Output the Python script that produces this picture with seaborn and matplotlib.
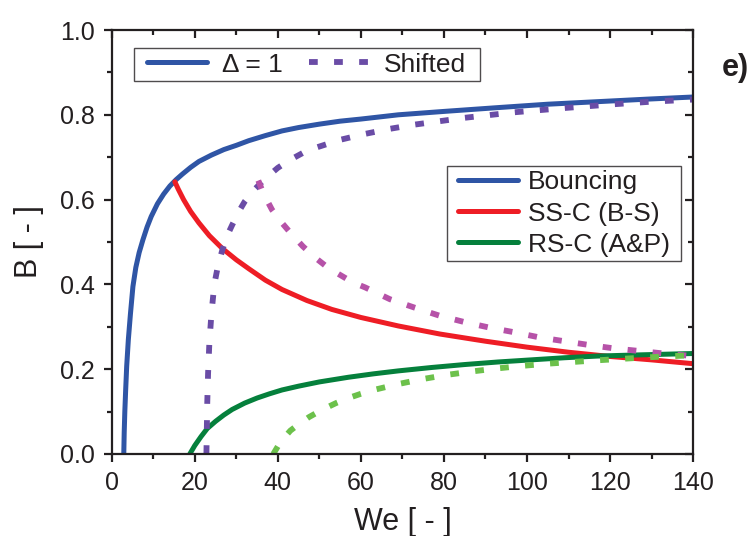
import matplotlib
matplotlib.use('Agg')
import matplotlib.pyplot as plt
from matplotlib.lines import Line2D
from matplotlib.path import Path
from matplotlib.ticker import MultipleLocator, FormatStrFormatter
import seaborn as sns

# values
bounce_we = [2.9, 3.0, 3.15, 3.35, 3.6, 4.0, 4.5, 5.1, 5.8, 6.6, 7.5, 8.5, 9.5, 11, 12.5, 14, 15.5, 17, 19,
             21, 24, 27, 30, 33, 37, 41, 45, 50, 55, 60, 69, 80, 93, 105, 117, 129, 140]
bounce_b = [0.0, 0.05, 0.10, 0.15, 0.207, 0.27, 0.33, 0.395, 0.44, 0.475, 0.505, 0.535, 0.56, 0.59, 0.613,
            0.632, 0.647, 0.66, 0.676, 0.69, 0.705, 0.718, 0.728, 0.739, 0.751, 0.762, 0.77, 0.778, 0.785,
            0.79, 0.80, 0.808, 0.817, 0.825, 0.831, 0.837, 0.842]

bounce_sh_we = [22.8, 22.9, 23.0, 23.2, 23.5, 24.0, 24.7, 25.5, 26.6, 27.8, 29, 30.5, 32, 34, 37, 40, 43, 46,
                49, 55, 61, 67, 73, 85, 97, 109, 121, 130, 140]
bounce_sh_b = [0.0, 0.06, 0.12, 0.19, 0.26, 0.33, 0.40, 0.44, 0.48, 0.515, 0.54, 0.57, 0.595, 0.62, 0.65,
               0.675, 0.694, 0.71, 0.722, 0.741, 0.755, 0.767, 0.777, 0.793, 0.806, 0.816, 0.825, 0.831, 0.836]

ssc_we = [15.2, 16, 17.3, 19, 21, 23.5, 26.6, 30, 33, 37, 41, 47, 53, 60, 69, 79, 90, 100, 110, 120, 130, 140]
ssc_b = [0.642, 0.625, 0.60, 0.572, 0.545, 0.515, 0.485, 0.458, 0.437, 0.41, 0.388, 0.362, 0.341, 0.322,
         0.302, 0.283, 0.266, 0.252, 0.24, 0.23, 0.222, 0.213]

ssc_sh_we = [35.3, 36.5, 38.6, 41, 43, 46, 49, 52, 54.7, 58, 61, 67, 73, 79, 85, 91, 97, 103, 109, 115, 121,
             127, 133, 140]
ssc_sh_b = [0.645, 0.615, 0.576, 0.545, 0.522, 0.49, 0.463, 0.44, 0.424, 0.405, 0.393, 0.365, 0.345, 0.326,
            0.311, 0.298, 0.287, 0.275, 0.266, 0.257, 0.249, 0.243, 0.237, 0.231]

rsc_we = [18.8, 20, 21.5, 23, 25, 27, 29, 32, 35, 38, 41, 45, 50, 57, 63, 69, 77, 85, 93, 101, 109, 117, 128, 140]
rsc_b = [0.0, 0.02, 0.041, 0.06, 0.077, 0.092, 0.105, 0.12, 0.132, 0.142, 0.151, 0.16, 0.17, 0.181, 0.189,
         0.196, 0.204, 0.211, 0.217, 0.222, 0.227, 0.231, 0.234, 0.237]

rsc_sh_we = [38.9, 40, 41.5, 43, 45, 47.5, 50.6, 54, 57, 60, 63.5, 69, 75, 81, 87, 93, 99, 105, 117, 129, 140]
rsc_sh_b = [0.0, 0.018, 0.038, 0.055, 0.07, 0.087, 0.104, 0.12, 0.132, 0.142, 0.152, 0.165, 0.177, 0.187,
            0.195, 0.202, 0.208, 0.213, 0.221, 0.228, 0.233]

blue = '#2f55a5'
red = '#ee1d25'
green = '#05803c'
purple = '#6a4ca6'
magenta = '#b652a8'
lgreen = '#6cc14b'
ink = '#231f20'

sns.set_style('ticks')
plt.rcParams['font.family'] = ['Liberation Sans', 'DejaVu Sans']

fig = plt.figure(figsize=(7.55, 5.36), dpi=100)
ax = fig.add_axes([0.148, 0.153, 0.770, 0.791])

solid_lw = 3.6
dot_lw = 4.2
dots = (0, (1.5, 2.8))

sns.lineplot(x=bounce_we, y=bounce_b, ax=ax, color=blue, lw=solid_lw, estimator=None)
sns.lineplot(x=ssc_we, y=ssc_b, ax=ax, color=red, lw=solid_lw, estimator=None)
sns.lineplot(x=rsc_we, y=rsc_b, ax=ax, color=green, lw=solid_lw, estimator=None)
sns.lineplot(x=bounce_sh_we, y=bounce_sh_b, ax=ax, color=purple, lw=dot_lw, linestyle=dots, estimator=None)
sns.lineplot(x=ssc_sh_we, y=ssc_sh_b, ax=ax, color=magenta, lw=dot_lw, linestyle=dots, estimator=None)
sns.lineplot(x=rsc_sh_we, y=rsc_sh_b, ax=ax, color=lgreen, lw=dot_lw, linestyle=dots, estimator=None)

ax.set_xlim(0, 140)
ax.set_ylim(0, 1.0)
ax.xaxis.set_major_locator(MultipleLocator(20))
ax.xaxis.set_minor_locator(MultipleLocator(10))
ax.yaxis.set_major_locator(MultipleLocator(0.2))
ax.yaxis.set_minor_locator(MultipleLocator(0.1))
ax.yaxis.set_major_formatter(FormatStrFormatter('%.1f'))

for s in ax.spines.values():
    s.set_linewidth(1.6)
    s.set_color(ink)
    s.set_visible(True)
ax.tick_params(axis='both', which='major', direction='out', length=6, width=1.6,
               labelsize=18, colors=ink, pad=6)
ax.tick_params(axis='both', which='minor', direction='out', length=3.5, width=1.6, colors=ink)

# mirrored inward ticks on top/right
axt = ax.secondary_xaxis('top')
axt.xaxis.set_major_locator(MultipleLocator(20))
axt.xaxis.set_minor_locator(MultipleLocator(10))
axt.tick_params(which='major', direction='in', length=6, width=1.6, labeltop=False, colors=ink)
axt.tick_params(which='minor', direction='in', length=3.5, width=1.6, colors=ink)
axt.spines['top'].set_visible(False)
axr = ax.secondary_yaxis('right')
axr.yaxis.set_major_locator(MultipleLocator(0.2))
axr.yaxis.set_minor_locator(MultipleLocator(0.1))
axr.tick_params(which='major', direction='in', length=6, width=1.6, labelright=False, colors=ink)
axr.tick_params(which='minor', direction='in', length=3.5, width=1.6, colors=ink)
axr.spines['right'].set_visible(False)

ax.set_xlabel('We [ - ]', fontsize=22, color=ink, labelpad=9)
ax.set_ylabel('B [ - ]', fontsize=22, color=ink, labelpad=12)


def wide_box(extra):
    # square legend frame with some extra room left and right
    def box(x0, y0, width, height, mutation_size):
        px = extra * mutation_size
        return Path([(x0 - px, y0), (x0 + width + px, y0), (x0 + width + px, y0 + height),
                     (x0 - px, y0 + height), (x0 - px, y0)], closed=True)
    return box


h1 = [Line2D([], [], color=blue, lw=solid_lw),
      Line2D([], [], color=purple, lw=dot_lw, linestyle=dots)]
leg1 = ax.legend(h1, ['\u0394 = 1', 'Shifted'], loc='upper left', bbox_to_anchor=(0.052, 0.958),
                 ncol=2, fontsize=19, frameon=True, fancybox=False, edgecolor=ink,
                 handlelength=2.3, columnspacing=1.0, borderpad=0.18, handletextpad=0.55,
                 borderaxespad=0)
leg1.get_frame().set_linewidth(1.0)
leg1.get_frame().set_boxstyle(wide_box(0.32))
for t in leg1.get_texts():
    t.set_color(ink)
ax.add_artist(leg1)

h2 = [Line2D([], [], color=blue, lw=solid_lw),
      Line2D([], [], color=red, lw=solid_lw),
      Line2D([], [], color=green, lw=solid_lw)]
leg2 = ax.legend(h2, ['Bouncing', 'SS-C (B-S)', 'RS-C (A&P)'], loc='upper left',
                 bbox_to_anchor=(0.587, 0.68), fontsize=19, frameon=True, fancybox=False,
                 edgecolor=ink, handlelength=2.3, borderpad=0.18, labelspacing=0.27,
                 handletextpad=0.35, borderaxespad=0)
leg2.get_frame().set_linewidth(1.0)
leg2.get_frame().set_boxstyle(wide_box(0.24))
for t in leg2.get_texts():
    t.set_color(ink)

fig.text(0.956, 0.874, 'e)', fontsize=22, fontweight='bold', color=ink, ha='left', va='center')

fig.savefig('out.png', dpi=100)
